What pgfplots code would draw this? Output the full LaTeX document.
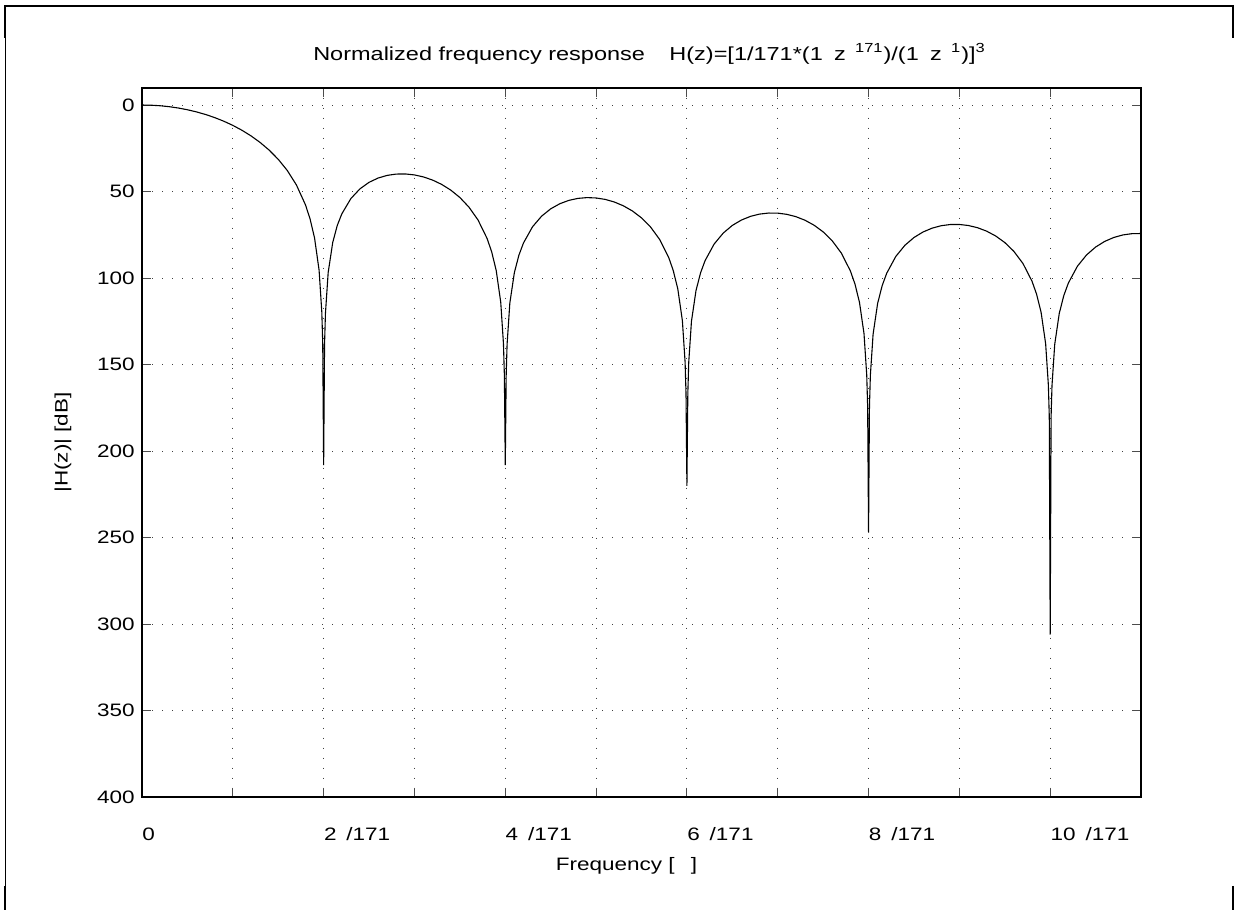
\documentclass[border=0pt]{standalone}
\usepackage{fontspec}
\setmainfont{Liberation Sans}[FakeStretch=1.25]
\usepackage{pgfplots}
\usepackage{pgfplotstable}
\pgfplotsset{compat=1.18}
% attenuation in dB (plotted downward), x in units of pi/171
\pgfplotstableread{
x y
0 0
0.1 0.11
0.2 0.43
0.3 0.97
0.4 1.74
0.5 2.74
0.6 3.98
0.7 5.48
0.8 7.26
0.9 9.35
1.0 11.77
1.1 14.57
1.2 17.83
1.3 21.61
1.4 26.06
1.5 31.36
1.6 37.86
1.7 46.17
1.8 57.69
1.85 65.71
1.9 76.83
1.95 95.49
1.98 119.74
1.99 137.90
2.0 208
2.01 138.19
2.02 120.27
2.05 96.79
2.1 79.44
2.15 69.62
2.2 62.91
2.3 54.05
2.4 48.43
2.5 44.67
2.6 42.19
2.7 40.66
2.8 39.90
2.9 39.83
3.0 40.39
3.1 41.57
3.2 43.38
3.3 45.89
3.4 49.18
3.5 53.44
3.6 59.00
3.7 66.44
3.8 77.15
3.85 84.80
3.9 95.57
3.95 113.88
3.98 137.94
3.99 156.06
4.0 208
4.01 156.19
4.02 138.20
4.05 114.53
4.1 96.87
4.15 86.76
4.2 79.76
4.3 70.36
4.4 64.22
4.5 59.99
4.6 57.05
4.7 55.10
4.8 53.95
4.9 53.50
5.0 53.71
5.1 54.54
5.2 56.03
5.3 58.23
5.4 61.23
5.5 65.22
5.6 70.51
5.7 77.70
5.8 88.17
5.85 95.71
5.9 106.36
5.95 124.56
5.98 148.55
5.99 166.64
6.0 220
6.01 166.73
6.02 148.72
6.05 124.99
6.1 107.23
6.15 97.01
6.2 89.91
6.3 80.31
6.4 73.99
6.5 69.57
6.6 66.46
6.7 64.34
6.8 63.03
6.9 62.42
7.0 62.47
7.1 63.17
7.2 64.51
7.3 66.57
7.4 69.44
7.5 73.30
7.6 78.47
7.7 85.54
7.8 95.89
7.85 103.37
7.9 113.97
7.95 132.11
7.98 156.07
7.99 174.15
8.0 247
8.01 174.22
8.02 156.20
8.05 132.44
8.1 114.62
8.15 104.35
8.2 97.20
8.3 87.49
8.4 81.07
8.5 76.56
8.6 73.36
8.7 71.15
8.8 69.74
8.9 69.05
9.0 69.02
9.1 69.63
9.2 70.90
9.3 72.88
9.4 75.68
9.5 79.46
9.6 84.55
9.7 91.55
9.8 101.84
9.85 109.28
9.9 119.85
9.95 137.96
9.98 161.90
9.99 179.97
10.0 306
10.01 180.02
10.02 162.00
10.05 138.22
10.1 120.37
10.15 110.07
10.2 102.88
10.3 93.12
10.4 86.64
10.5 82.07
10.6 78.81
10.7 76.54
10.8 75.08
10.9 74.34
11.0 74.25
}\resp
\begin{document}
\begin{tikzpicture}[font=\fontsize{9bp}{11bp}\selectfont]
\useasboundingbox (0,0) rectangle (619.5bp,455bp);
\draw[line width=0.5bp] (2.5bp,452bp) -- (2.5bp,0);
\draw[line width=1.2bp] (2.5bp,436bp) -- (2.5bp,452bp) -- (616.6bp,452bp) -- (616.6bp,436bp);
\draw[line width=1.2bp] (2.5bp,12bp) -- (2.5bp,0bp);
\draw[line width=1.2bp] (616.6bp,12bp) -- (616.6bp,0bp);
\begin{axis}[
  at={(71bp,56.35bp)}, anchor=south west, scale only axis,
  width=499.5bp, height=354.8bp,
  xmin=0, xmax=11, ymin=-10, ymax=400, y dir=reverse,
  xtick={0,1,2,3,4,5,6,7,8,9,10,11},
  xticklabels={0,,2\hspace{0.55em}/171,,4\hspace{0.55em}/171,,6\hspace{0.55em}/171,,8\hspace{0.55em}/171,,10\hspace{0.55em}/171,},
  ytick={0,50,...,400},
  grid=major,
  major grid style={black!75, line width=0.5bp, dash pattern=on 0.6bp off 4.4bp},
  tick align=inside, major tick length=4.5bp,
  tick style={black!70, line width=0.5bp},
  axis line style={line width=1bp},
  xticklabel style={anchor=north west, inner sep=0pt, yshift=-15bp},
  yticklabel style={anchor=east, inner sep=0pt, xshift=-3.5bp},
  /pgf/number format/assume math mode=true,
  title={\fontsize{9.4bp}{11bp}\selectfont Normalized frequency response\hspace{1.3em}H(z)=[1/171*(1\hspace{0.6em}z\textsuperscript{\hspace{0.7em}171})/(1\hspace{0.6em}z\textsuperscript{\hspace{0.7em}1})]\textsuperscript{3}},
  title style={at={(axis description cs:0.5,1)}, anchor=base, inner sep=0pt, yshift=7.85bp, xshift=4bp},
  xlabel={Frequency [\hspace{0.9em}]},
  xlabel style={at={(axis description cs:0.5,0)}, anchor=north, inner sep=0pt, yshift=-30bp, xshift=-7.5bp},
  ylabel={|H(z)| [dB]},
  ylabel style={at={(axis description cs:-0.0791,0.5)}, anchor=center, inner sep=0pt},
]
\addplot[black, line width=0.55bp] table[x=x,y=y]{\resp};
\end{axis}
\end{tikzpicture}
\end{document}
